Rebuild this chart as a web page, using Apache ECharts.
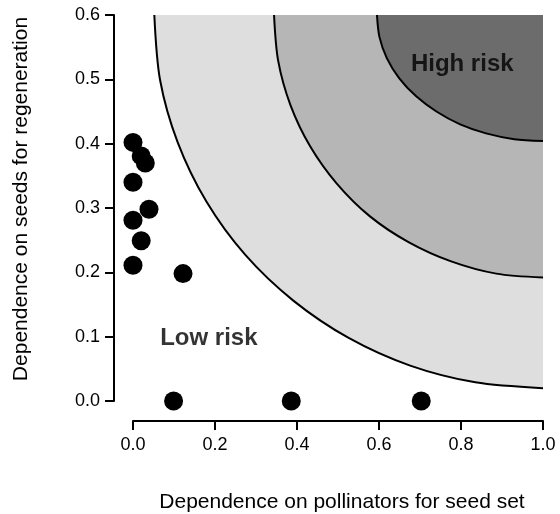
<!DOCTYPE html>
<html><head><meta charset="utf-8">
<script src="https://cdn.jsdelivr.net/npm/echarts@6/dist/echarts.min.js"></script>
<style>html,body{margin:0;padding:0;background:#fff}#c{width:560px;height:514px}</style>
</head><body><div id="c"></div>
<script>
const xTickLabels = ['0.0','0.2','0.4','0.6','0.8','1.0'];
const yTickLabels = ['0.0','0.1','0.2','0.3','0.4','0.5','0.6'];
const pointsX = [0.000,0.020,0.030,0.000,0.039,0.000,0.020,0.000,0.122,0.099,0.386,0.703];
const pointsY = [0.402,0.381,0.370,0.340,0.298,0.281,0.249,0.211,0.198,0.000,0.000,0.000];
const outerArc = [[0.052,0.600],[0.066,0.499],[0.109,0.402],[0.179,0.310],[0.274,0.227],[0.391,0.156],[0.526,0.098],[0.676,0.055],[0.835,0.029],[1.000,0.020]];
const middleArc = [[0.344,0.600],[0.354,0.529],[0.384,0.460],[0.432,0.396],[0.497,0.338],[0.578,0.287],[0.672,0.247],[0.776,0.217],[0.886,0.198],[1.000,0.192]];
const innerArc = [[0.595,0.600],[0.601,0.566],[0.619,0.533],[0.649,0.502],[0.690,0.474],[0.740,0.450],[0.798,0.430],[0.861,0.416],[0.930,0.407],[1.000,0.404]];
const zoneLabels = ['High risk','Low risk'];
const zoneLabelX = [0.803,0.185];
const zoneLabelY = [0.524,0.098];

const FONT = '"Liberation Sans", Arial, Helvetica, sans-serif';
const chart = echarts.init(document.getElementById('c'), null, {renderer:'canvas'});

function arcSeries(data, color, z){
  return {type:'line', data:data, smooth:0.3, symbol:'none', clip:true, z:z,
    lineStyle:{color:'#000', width:2},
    areaStyle:{color:color, opacity:1, origin:'end'},
    silent:true, animation:false};
}

chart.setOption({
  animation:false,
  textStyle:{fontFamily:FONT},
  grid:{left:133, right:17, top:15, bottom:113, containLabel:false, outerBoundsMode:'none'},
  xAxis:{type:'value', min:0, max:1, interval:0.2, offset:20,
    axisLine:{show:true, onZero:false, lineStyle:{color:'#000', width:2}},
    axisTick:{show:true, length:9, lineStyle:{color:'#000', width:2}},
    axisLabel:{margin:15, fontSize:18, color:'#000', fontFamily:FONT,
      formatter:v=>xTickLabels[Math.round(v/0.2)]},
    splitLine:{show:false},
    name:'Dependence on pollinators for seed set', nameLocation:'middle', nameGap:71,
    nameTextStyle:{fontSize:21, color:'#000', fontFamily:FONT, padding:[0,0,0,8]}},
  yAxis:{type:'value', min:0, max:0.6, interval:0.1, offset:19,
    axisLine:{show:true, onZero:false, lineStyle:{color:'#000', width:2}},
    axisTick:{show:true, length:9, lineStyle:{color:'#000', width:2}},
    axisLabel:{margin:14, fontSize:18, color:'#000', fontFamily:FONT,
      formatter:v=>yTickLabels[Math.round(v/0.1)]},
    splitLine:{show:false},
    name:'Dependence on seeds for regeneration', nameLocation:'middle', nameGap:82,
    nameTextStyle:{fontSize:21, color:'#000', fontFamily:FONT, padding:[0,0,0,18]}},
  series:[
    arcSeries(outerArc, '#dedede', 1),
    arcSeries(middleArc, '#b6b6b6', 2),
    arcSeries(innerArc, '#6c6c6c', 3),
    {type:'scatter', data:pointsX.map((x,i)=>[x,pointsY[i]]), symbol:'circle', symbolSize:19,
      itemStyle:{color:'#000', opacity:1}, clip:false, z:5, silent:true},
    {type:'scatter', data:zoneLabels.map((n,i)=>({name:n, value:[zoneLabelX[i], zoneLabelY[i]]})),
      symbolSize:0, z:6, silent:true,
      label:{show:true, position:'inside', formatter:p=>p.name, fontSize:24, fontWeight:'bold',
        color:'#000', fontFamily:FONT}}
  ]
});
</script></body></html>
